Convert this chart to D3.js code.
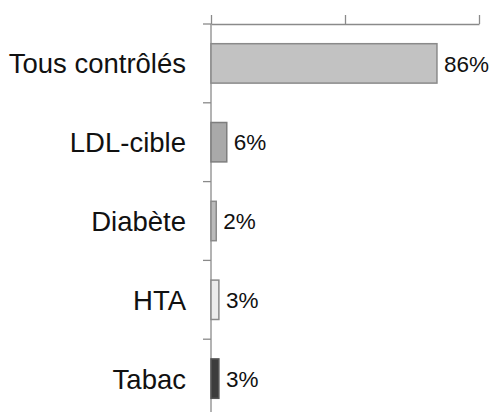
<!DOCTYPE html>
<html>
<head>
<meta charset="utf-8">
<script src="https://cdn.jsdelivr.net/npm/d3@7"></script>
<style>
  html, body { margin: 0; padding: 0; background: #fff; }
  svg { display: block; }
  text { font-family: "Liberation Sans", Arial, sans-serif; fill: #111; }
</style>
</head>
<body>
<svg id="chart" width="490" height="412"></svg>
<script>
const categories = ["Tous contrôlés", "LDL-cible", "Diabète", "HTA", "Tabac"];
const values = [86, 6, 2, 3, 3];
const fills = ["#c2c2c2", "#a9a9a9", "#bababa", "#ececec", "#3c3c3c"];
const strokes = ["#8a8a8a", "#7e7e7e", "#8a8a8a", "#8a8a8a", "#555555"];
const xDomain = [0, 102];
const xTicks = [0, 51, 102];

const svg = d3.select("#chart");
const mLeft = 211, mRight = 479, mTop = 24, mBottom = 418;

const x = d3.scaleLinear().domain(xDomain).range([mLeft, mRight]);
const y = d3.scaleBand().domain(categories).range([mTop, mBottom]).paddingInner(0.5).paddingOuter(0.25);

const axisColor = "#8a8a8a";

// x axis (top, ticks upward, no labels)
const xAxis = svg.append("g").attr("transform", `translate(0,${mTop})`)
  .call(d3.axisTop(x).tickValues(xTicks).tickSize(9).tickSizeOuter(0).tickFormat(""));
xAxis.selectAll("path, line").attr("stroke", axisColor).attr("stroke-width", 1.3);

// y axis with ticks at band boundaries
const step = y.step();
const boundaries = d3.range(categories.length).map(i => mTop + i * step);
const yAxis = svg.append("g");
yAxis.append("line")
  .attr("x1", mLeft).attr("x2", mLeft).attr("y1", mTop).attr("y2", mBottom)
  .attr("stroke", axisColor).attr("stroke-width", 1.3);
yAxis.selectAll("line.tick").data(boundaries).join("line")
  .attr("class", "tick")
  .attr("x1", mLeft - 8).attr("x2", mLeft)
  .attr("y1", d => d).attr("y2", d => d)
  .attr("stroke", axisColor).attr("stroke-width", 1.3);

// bars
const data = categories.map((c, i) => ({ c, v: values[i], f: fills[i], s: strokes[i] }));
svg.append("g").selectAll("rect").data(data).join("rect")
  .attr("x", x(0))
  .attr("y", d => y(d.c))
  .attr("width", d => x(d.v) - x(0))
  .attr("height", y.bandwidth())
  .attr("fill", d => d.f)
  .attr("stroke", d => d.s)
  .attr("stroke-width", 1.5);

// value labels
svg.append("g").selectAll("text").data(data).join("text")
  .attr("x", d => x(d.v) + 7)
  .attr("y", d => y(d.c) + y.bandwidth() / 2)
  .attr("dy", "0.36em")
  .attr("font-size", 22.5)
  .text(d => d.v + "%");

// category labels
svg.append("g").selectAll("text").data(data).join("text")
  .attr("x", 186)
  .attr("y", d => y(d.c) + y.bandwidth() / 2)
  .attr("dy", "0.36em")
  .attr("text-anchor", "end")
  .attr("font-size", 27.5)
  .text(d => d.c);
</script>
</body>
</html>
